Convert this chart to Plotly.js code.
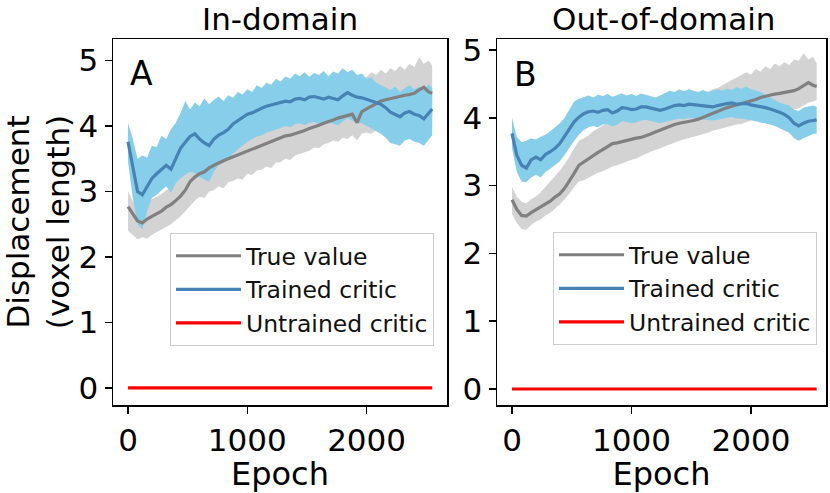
<!DOCTYPE html>
<html>
<head>
<meta charset="utf-8">
<script src="https://cdn.plot.ly/plotly-3.0.1.min.js"></script>
<style>html,body{margin:0;padding:0;background:#fff;}#chart{width:830px;height:493px;}</style>
</head>
<body>
<div id="chart"></div>
<script>
// Epochs (x values)
const epochs = [0,40,80,120,160,200,240,280,320,360,
  400,440,480,520,560,600,640,680,720,760,
  800,840,880,920,960,1000,1040,1080,1120,1160,
  1200,1240,1280,1320,1360,1400,1440,1480,1520,1560,
  1600,1640,1680,1720,1760,1800,1840,1880,1920,1960,
  2000,2040,2080,2120,2160,2200,2240,2280,2320,2360,
  2400,2440,2480,2520,2550];

// ---- Panel A: In-domain ----
const inTrueMean = [2.77,2.65,2.55,2.52,2.58,2.62,2.66,2.70,2.76,2.80,
  2.86,2.93,3.02,3.15,3.22,3.27,3.30,3.36,3.40,3.44,
  3.47,3.50,3.53,3.56,3.58,3.62,3.64,3.68,3.71,3.74,
  3.76,3.80,3.82,3.85,3.86,3.88,3.90,3.93,3.96,3.98,
  4.01,4.04,4.06,4.09,4.12,4.14,4.17,4.18,4.05,4.22,
  4.26,4.30,4.33,4.38,4.40,4.42,4.43,4.45,4.47,4.48,
  4.50,4.55,4.59,4.52,4.50];
const inTrueHi = [3.00,2.85,2.75,2.72,2.82,2.88,2.92,2.96,3.02,3.06,
  3.12,3.20,3.30,3.45,3.50,3.53,3.56,3.60,3.63,3.67,
  3.70,3.73,3.76,3.79,3.82,3.86,3.88,3.92,3.95,3.98,
  4.00,4.04,4.06,4.09,4.11,4.14,4.16,4.20,4.23,4.26,
  4.29,4.32,4.35,4.38,4.42,4.46,4.50,4.55,4.62,4.70,
  4.75,4.82,4.78,4.86,4.80,4.88,4.84,4.92,4.86,4.95,
  4.90,5.05,4.95,5.00,4.92];
const inTrueLo = [2.40,2.33,2.27,2.30,2.28,2.34,2.38,2.42,2.46,2.50,
  2.56,2.62,2.70,2.78,2.86,2.92,2.90,3.00,3.02,3.08,
  3.05,3.14,3.16,3.20,3.18,3.27,3.25,3.32,3.33,3.38,
  3.36,3.44,3.45,3.50,3.48,3.55,3.58,3.60,3.62,3.67,
  3.66,3.72,3.74,3.78,3.76,3.82,3.80,3.86,3.78,3.88,
  3.90,3.88,3.94,3.93,3.98,3.96,4.02,4.03,4.05,4.04,
  4.08,4.10,4.12,4.15,4.14];
const inCriticMean = [3.76,3.35,3.00,2.95,3.08,3.20,3.27,3.33,3.40,3.34,
  3.50,3.66,3.75,3.84,3.88,3.80,3.74,3.70,3.80,3.86,
  3.90,3.95,4.03,4.08,4.13,4.18,4.20,4.24,4.27,4.30,
  4.32,4.34,4.36,4.38,4.37,4.41,4.42,4.40,4.44,4.45,
  4.43,4.41,4.44,4.42,4.40,4.46,4.51,4.47,4.44,4.43,
  4.41,4.38,4.36,4.33,4.28,4.21,4.18,4.14,4.20,4.22,
  4.18,4.16,4.11,4.20,4.26];
const inCriticHi = [4.05,3.80,3.50,3.55,3.52,3.70,3.68,3.85,3.80,3.95,
  4.05,4.20,4.38,4.25,4.36,4.30,4.42,4.33,4.40,4.45,
  4.38,4.47,4.43,4.52,4.48,4.56,4.52,4.62,4.58,4.66,
  4.63,4.72,4.68,4.76,4.72,4.80,4.76,4.82,4.75,4.81,
  4.78,4.84,4.76,4.83,4.80,4.88,4.82,4.86,4.78,4.80,
  4.72,4.74,4.66,4.62,4.58,4.55,4.60,4.52,4.58,4.62,
  4.56,4.60,4.55,4.64,4.58];
const inCriticLo = [3.45,2.90,2.50,2.42,2.70,2.90,2.95,3.02,3.08,2.98,
  3.12,3.20,3.26,3.30,3.28,3.22,3.18,3.15,3.30,3.40,
  3.45,3.50,3.58,3.64,3.70,3.76,3.80,3.84,3.86,3.90,
  3.92,3.95,3.98,4.00,3.98,4.03,4.04,4.01,4.05,4.06,
  4.03,4.02,4.06,4.04,4.01,4.07,4.12,4.08,4.05,4.04,
  4.00,3.96,3.92,3.88,3.82,3.74,3.72,3.70,3.78,3.80,
  3.76,3.74,3.70,3.80,3.86];
const inUntrained = [0,0,0,0,0,0,0,0,0,0, 0,0,0,0,0,0,0,0,0,0,
  0,0,0,0,0,0,0,0,0,0, 0,0,0,0,0,0,0,0,0,0,
  0,0,0,0,0,0,0,0,0,0, 0,0,0,0,0,0,0,0,0,0, 0,0,0,0,0];

// ---- Panel B: Out-of-domain ----
const outTrueMean = [2.79,2.65,2.56,2.55,2.60,2.64,2.68,2.73,2.77,2.83,
  2.88,2.96,3.06,3.18,3.30,3.35,3.39,3.45,3.49,3.53,
  3.58,3.62,3.63,3.65,3.67,3.68,3.70,3.71,3.73,3.76,
  3.79,3.82,3.85,3.87,3.90,3.92,3.93,3.95,3.96,3.98,
  4.01,4.04,4.07,4.10,4.12,4.15,4.17,4.19,4.20,4.22,
  4.24,4.27,4.30,4.32,4.33,4.35,4.36,4.37,4.39,4.40,
  4.43,4.48,4.52,4.48,4.46];
const outTrueHi = [2.98,2.84,2.76,2.74,2.80,2.84,2.90,2.98,3.05,3.14,
  3.22,3.32,3.42,3.55,3.66,3.70,3.74,3.80,3.84,3.88,
  3.93,3.97,3.99,4.02,4.00,4.03,4.02,4.06,4.05,4.10,
  4.12,4.15,4.18,4.20,4.24,4.26,4.27,4.30,4.31,4.32,
  4.36,4.38,4.42,4.44,4.48,4.52,4.56,4.60,4.64,4.67,
  4.64,4.72,4.68,4.76,4.72,4.80,4.76,4.82,4.78,4.86,
  4.84,4.95,4.86,4.90,4.80];
const outTrueLo = [2.58,2.45,2.36,2.35,2.42,2.47,2.50,2.56,2.60,2.66,
  2.72,2.80,2.88,2.98,3.06,3.08,3.12,3.15,3.19,3.21,
  3.25,3.28,3.30,3.33,3.36,3.38,3.40,3.44,3.47,3.50,
  3.52,3.55,3.58,3.60,3.63,3.66,3.68,3.70,3.71,3.73,
  3.76,3.78,3.81,3.83,3.85,3.86,3.88,3.90,3.91,3.93,
  3.96,3.99,4.01,4.03,4.04,4.06,4.07,4.09,4.10,4.12,
  4.14,4.18,4.22,4.24,4.26];
const outCriticMean = [3.77,3.45,3.30,3.26,3.38,3.42,3.38,3.46,3.50,3.55,
  3.62,3.72,3.84,3.94,4.01,4.06,4.09,4.10,4.08,4.11,
  4.12,4.07,4.10,4.15,4.14,4.12,4.13,4.16,4.16,4.14,
  4.12,4.11,4.13,4.16,4.18,4.19,4.18,4.20,4.19,4.18,
  4.17,4.16,4.16,4.18,4.20,4.21,4.22,4.20,4.21,4.21,
  4.19,4.18,4.16,4.15,4.13,4.11,4.08,4.05,4.00,3.92,
  3.88,3.92,3.95,3.96,3.97];
const outCriticHi = [4.00,3.72,3.64,3.66,3.70,3.68,3.72,3.75,3.80,3.86,
  3.92,4.00,4.12,4.24,4.28,4.30,4.33,4.30,4.34,4.32,
  4.35,4.31,4.34,4.36,4.33,4.35,4.32,4.36,4.34,4.32,
  4.30,4.33,4.36,4.40,4.38,4.42,4.39,4.42,4.40,4.38,
  4.41,4.38,4.40,4.42,4.40,4.43,4.41,4.45,4.43,4.46,
  4.42,4.40,4.38,4.34,4.30,4.26,4.22,4.20,4.18,4.12,
  4.10,4.15,4.17,4.18,4.16];
const outCriticLo = [3.55,3.20,3.06,3.05,3.12,3.16,3.12,3.20,3.25,3.30,
  3.36,3.45,3.56,3.66,3.75,3.82,3.86,3.88,3.86,3.90,
  3.91,3.87,3.90,3.95,3.94,3.92,3.93,3.96,3.97,3.95,
  3.93,3.92,3.94,3.96,3.98,3.99,3.98,4.00,3.99,3.98,
  3.97,3.96,3.96,3.97,3.99,4.00,4.01,3.99,3.99,3.98,
  3.96,3.95,3.93,3.92,3.90,3.88,3.85,3.82,3.78,3.70,
  3.66,3.70,3.73,3.76,3.77];
const outUntrained = [0,0,0,0,0,0,0,0,0,0, 0,0,0,0,0,0,0,0,0,0,
  0,0,0,0,0,0,0,0,0,0, 0,0,0,0,0,0,0,0,0,0,
  0,0,0,0,0,0,0,0,0,0, 0,0,0,0,0,0,0,0,0,0, 0,0,0,0,0];

const seriesNames = ['True value', 'Trained critic', 'Untrained critic'];
const panelTitles = ['In-domain', 'Out-of-domain'];
const panelLetters = ['A', 'B'];

const C = {grayLine:'#808080', grayBand:'#d3d3d3', blueLine:'#4682b4', blueBand:'#87ceeb', red:'#ff0000'};
const FONT = 'DejaVu Sans, Liberation Sans, sans-serif';

function panel(xa, ya, leg, tm, th, tl, cm, ch, cl, un) {
  const base = {x: epochs, xaxis: xa, yaxis: ya, mode: 'lines', hoverinfo: 'skip'};
  return [
    Object.assign({}, base, {y: tl, line: {width: 0, color: C.grayBand}, showlegend: false}),
    Object.assign({}, base, {y: th, line: {width: 0, color: C.grayBand}, fill: 'tonexty', fillcolor: C.grayBand, showlegend: false}),
    Object.assign({}, base, {y: cl, line: {width: 0, color: C.blueBand}, showlegend: false}),
    Object.assign({}, base, {y: ch, line: {width: 0, color: C.blueBand}, fill: 'tonexty', fillcolor: C.blueBand, showlegend: false}),
    Object.assign({}, base, {y: tm, name: seriesNames[0], legend: leg, line: {width: 3.2, color: C.grayLine}}),
    Object.assign({}, base, {y: cm, name: seriesNames[1], legend: leg, line: {width: 3.2, color: C.blueLine}}),
    Object.assign({}, base, {y: un, name: seriesNames[2], legend: leg, line: {width: 3.2, color: C.red}})
  ];
}

const data = [].concat(
  panel('x', 'y', 'legend', inTrueMean, inTrueHi, inTrueLo, inCriticMean, inCriticHi, inCriticLo, inUntrained),
  panel('x2', 'y2', 'legend2', outTrueMean, outTrueHi, outTrueLo, outCriticMean, outCriticHi, outCriticLo, outUntrained)
);

const W = 830, H = 493;
const axCommon = {
  showline: true, mirror: true, linecolor: '#000', linewidth: 1.5,
  ticks: 'outside', ticklen: 7, tickwidth: 1.5, tickcolor: '#000',
  showgrid: false, zeroline: false,
  tickfont: {family: FONT, size: 31, color: '#000'}
};
const legCommon = {
  xanchor: 'left', yanchor: 'top', bgcolor: 'rgba(255,255,255,0.8)',
  bordercolor: '#cccccc', borderwidth: 1, font: {family: FONT, size: 23.5, color: '#111'},
  itemwidth: 65, traceorder: 'normal'
};

const layout = {
  width: W, height: H,
  margin: {l: 0, r: 0, t: 0, b: 0},
  paper_bgcolor: '#fff', plot_bgcolor: '#fff',
  font: {family: FONT, color: '#000'},
  xaxis: Object.assign({}, axCommon, {domain: [113/W, 447/W], range: [-126, 2674], tickvals: [0, 1000, 2000], anchor: 'y',
    title: {text: 'Epoch', font: {family: FONT, size: 32, color: '#000'}}}),
  yaxis: Object.assign({}, axCommon, {domain: [1 - 405/H, 1 - 39/H], range: [-0.26, 5.328], tickvals: [0, 1, 2, 3, 4, 5], anchor: 'x',
    title: {text: 'Displacement<br>(voxel length)', standoff: 18, font: {family: FONT, size: 31, color: '#000'}}}),
  xaxis2: Object.assign({}, axCommon, {domain: [497/W, 826/W], range: [-125.5, 2628], tickvals: [0, 1000, 2000], anchor: 'y2',
    title: {text: 'Epoch', font: {family: FONT, size: 32, color: '#000'}}}),
  yaxis2: Object.assign({}, axCommon, {domain: [1 - 405/H, 1 - 39/H], range: [-0.236, 5.162], tickvals: [0, 1, 2, 3, 4, 5], anchor: 'x2'}),
  legend: Object.assign({}, legCommon, {x: 170/W, y: 1 - 233/H}),
  legend2: Object.assign({}, legCommon, {x: 553/W, y: 1 - 232/H}),
  annotations: [
    {text: panelTitles[0], xref: 'paper', yref: 'paper', x: 280/W, y: 1, xanchor: 'center', yanchor: 'top', showarrow: false, borderpad: 0, font: {family: FONT, size: 31, color: '#000'}},
    {text: panelTitles[1], xref: 'paper', yref: 'paper', x: 663/W, y: 1, xanchor: 'center', yanchor: 'top', showarrow: false, borderpad: 0, font: {family: FONT, size: 31, color: '#000'}},
    {text: panelLetters[0], xref: 'paper', yref: 'paper', x: 128/W, y: 1 - 52/H, xanchor: 'left', yanchor: 'top', showarrow: false, font: {family: FONT, size: 33, color: '#000'}},
    {text: panelLetters[1], xref: 'paper', yref: 'paper', x: 512/W, y: 1 - 53/H, xanchor: 'left', yanchor: 'top', showarrow: false, font: {family: FONT, size: 33, color: '#000'}}
  ],
  showlegend: true
};

Plotly.newPlot('chart', data, layout, {displayModeBar: false, staticPlot: true});
</script>
</body>
</html>
